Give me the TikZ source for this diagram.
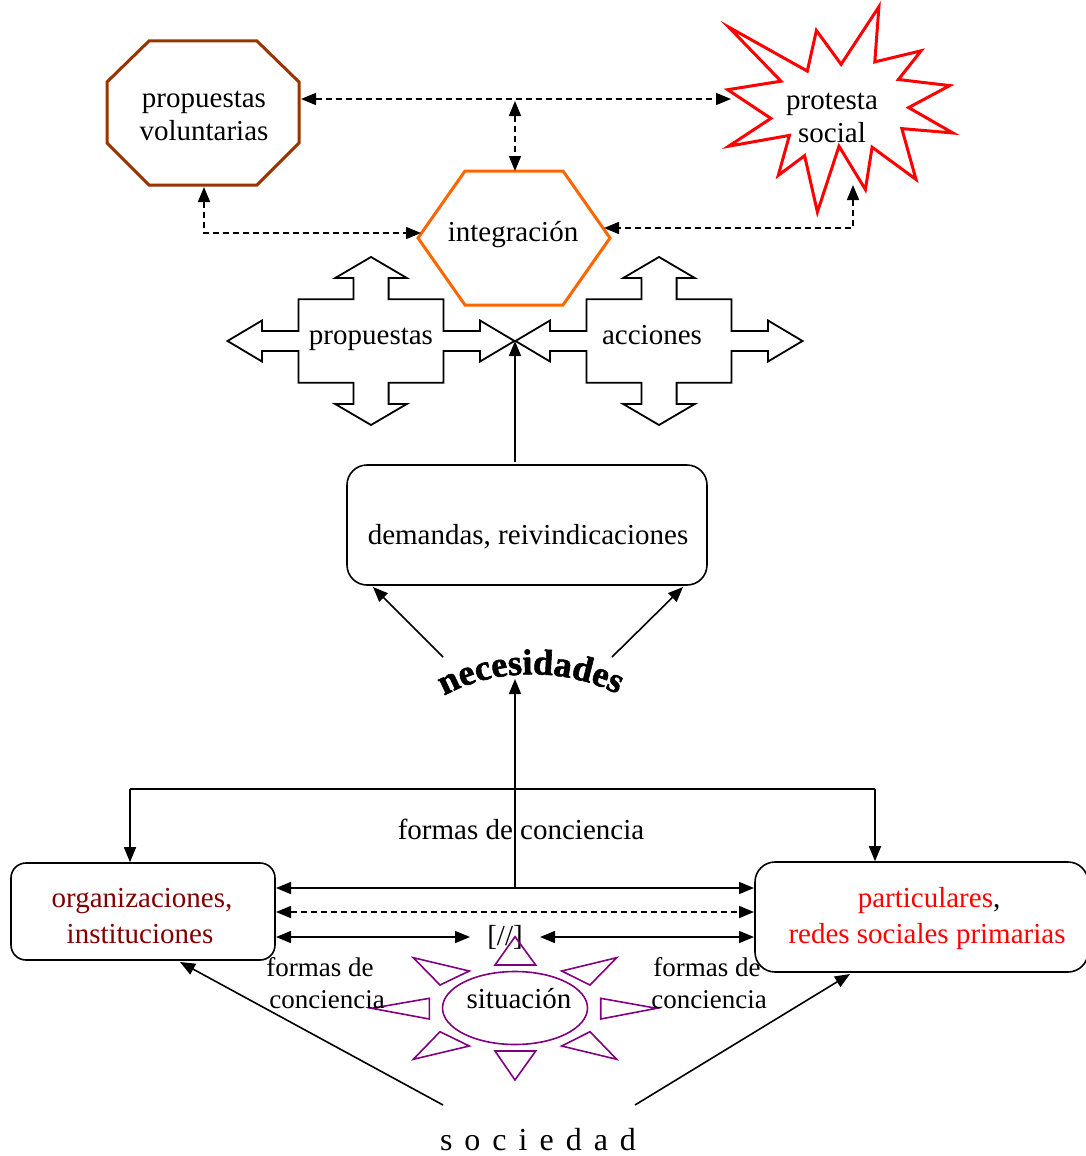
\documentclass[tikz,border=0pt]{standalone}
\usepackage{fontspec}
\setmainfont{Liberation Serif}
\newfontfamily\necfont{Liberation Serif Bold}[FakeBold=1.6]
\usetikzlibrary{arrows.meta,decorations.text}
\definecolor{brownc}{RGB}{153,51,0}
\definecolor{orangec}{RGB}{255,102,0}
\definecolor{darkredc}{RGB}{128,0,0}
\definecolor{purplec}{RGB}{128,0,128}
\definecolor{redc}{RGB}{255,0,0}
\tikzset{
  txt/.style={font=\fontsize{29}{34}\selectfont, inner sep=0pt, anchor=base},
  stxt/.style={font=\fontsize{27}{32}\selectfont, inner sep=0pt, anchor=base},
  conn/.style={line width=1.6pt},
  dsh/.style={line width=1.6pt, dash pattern=on 6pt off 4pt},
  boxshape/.style={draw, line width=1.6pt, inner sep=0pt},
  sunray/.style={draw=purplec, line width=1.6pt, line join=miter},
  quadarrow/.pic={
    \draw[line width=1.8pt, line join=miter]
      (-143.5,0) -- (-109,-20.5) -- (-109,-10) -- (-72.5,-10) -- (-72.5,-41.7)
      -- (-17.6,-41.7) -- (-17.6,-63) -- (-35.8,-63) -- (0,-84) -- (35.8,-63)
      -- (17.6,-63) -- (17.6,-41.7) -- (72.5,-41.7) -- (72.5,-10) -- (109,-10)
      -- (109,-20.5) -- (143.5,0) -- (109,20.5) -- (109,10) -- (72.5,10)
      -- (72.5,41.7) -- (17.6,41.7) -- (17.6,63) -- (35.8,63) -- (0,84)
      -- (-35.8,63) -- (-17.6,63) -- (-17.6,41.7) -- (-72.5,41.7) -- (-72.5,10)
      -- (-109,10) -- (-109,20.5) -- cycle;
  }
}
\begin{document}
\begin{tikzpicture}[x=1pt,y=-1pt,>={Triangle[length=15pt,width=12pt]}]
\fill[white] (0,0) rectangle (1086,1156);
\useasboundingbox (0,0) rectangle (1086,1156);

% --- octagon: propuestas voluntarias
\draw[brownc, line width=3pt, line join=miter]
  (149,41) -- (257,41) -- (299,82) -- (299,143) -- (257,185) -- (149,185) -- (107,143) -- (107,82) -- cycle;
\node[txt] (pv1) at (204,107) {propuestas};
\node[txt] (pv2) at (204,140) {voluntarias};
\coordinate (octR) at (301,99);
\coordinate (octB) at (204,187);

% --- star: protesta social
\draw[redc, line width=3pt, line join=miter]
  (728.7,27.1) -- (807.3,71.1) -- (816.4,30.5) -- (841.1,64.3) -- (878.9,6.8)
  -- (874.8,61.9) -- (921.1,50.8) -- (898.4,79.5) -- (949.7,85.6) -- (908.6,107.6)
  -- (953,133.0) -- (901.8,128.6) -- (916.0,179.4) -- (872.1,147.2) -- (865.4,189.5)
  -- (839.0,146.2) -- (817.4,212) -- (804.6,155.7) -- (778.3,175.3) -- (789.4,135.4)
  -- (728.7,146.2) -- (770.9,118.4) -- (727.7,89.7) -- (781.0,81.2) -- cycle;
\node[txt] (ps1) at (832,109) {protesta};
\node[txt] (ps2) at (832,142) {social};
\coordinate (starL) at (731,99);
\coordinate (starB) at (853,185);

% --- hexagon: integracion
\draw[orangec, line width=3pt, line join=miter]
  (418,238) -- (465,171) -- (563,171) -- (610,238) -- (563,305) -- (465,305) -- cycle;
\node[txt] (integ) at (513,241) {integración};
\coordinate (hexT) at (515,171);
\coordinate (hexL) at (421,233);
\coordinate (hexR) at (604,228);
\coordinate (topmid) at (515,101);
\coordinate (octBB) at (204,233);
\coordinate (starBB) at (853,228);

% --- dashed connectors at the top
\draw[dsh,<->] (octR) -- (starL);
\draw[dsh,<->] (topmid) -- (hexT);
\draw[dsh,<->] (octB) -- (octBB) -- (hexL);
\draw[dsh,<->] (starB) -- (starBB) -- (hexR);

% --- quad arrows
\pic (qa1) at (371,341) {quadarrow};
\pic (qa2) at (659,341) {quadarrow};
\node[txt] (prop) at (371,344) {propuestas};
\node[txt] (acc) at (652,344) {acciones};
\coordinate (cross) at (515,341);

% --- demandas
\node[boxshape, rounded corners=20pt, minimum width=360pt, minimum height=120pt] (dem) at (527,525) {};
\node[txt] (demT) at (528,544) {demandas, reivindicaciones};
\coordinate (demTop) at (515,462);
\draw[conn,->] (demTop) -- (cross);

% --- necesidades
\coordinate (nec) at (515,679);
\coordinate (necL) at (443,657);
\coordinate (necR) at (612,657);
\coordinate (demBL) at (373,587);
\coordinate (demBR) at (683,587);
\draw[conn,->] (necL) -- (demBL);
\draw[conn,->] (necR) -- (demBR);
\path[decorate, decoration={text along path, text align=center,
  text={|\necfont\fontsize{36}{36}\selectfont|necesidades}}]
  (428,706) .. controls (485,664) and (575,664) .. (634,704);

% --- lower boxes
\node[boxshape, rounded corners=15pt, minimum width=264pt, minimum height=97pt] (org) at (143,911.5) {};
\node[txt, text=darkredc] (org1) at (142,907) {organizaciones,};
\node[txt, text=darkredc] (org2) at (140,943) {instituciones};
\node[boxshape, rounded corners=20pt, minimum width=333pt, minimum height=110pt] (par) at (921.5,917) {};
\node[txt] (par1) at (929,907) {\textcolor{redc}{particulares},};
\node[txt, text=redc] (par2) at (927,943) {redes sociales primarias};

% --- formas de conciencia (top)
\coordinate (tl) at (130,789);
\coordinate (tr) at (875,789);
\draw[conn] (tl) -- (tr);
\draw[conn,->] (tl) -- (tl |- org.north);
\draw[conn,->] (tr) -- (tr |- par.north);
\node[txt] (fc) at (521,839) {formas de conciencia};
\coordinate (midbot) at (515,888);
\draw[conn,->] (midbot) -- (nec);

% --- double arrows between boxes
\coordinate (a1L) at (276,888);  \coordinate (a1R) at (754,888);
\coordinate (a2L) at (276,912);  \coordinate (a2R) at (754,912);
\coordinate (a3L) at (276,937);  \coordinate (a3R) at (754,937);
\coordinate (sepL) at (470,937); \coordinate (sepR) at (540,937);
\draw[conn,<->] (a1L) -- (a1R);
\draw[dsh,<->] (a2L) -- (a2R);
\draw[conn,<->] (a3L) -- (sepL);
\draw[conn,<->] (sepR) -- (a3R);
\node[txt] (sep) at (505,945) {[//]};

% --- situacion sun
\draw[sunray] (515,936.7) -- (495,965) -- (535.7,965) -- cycle;
\draw[sunray] (495,1051) -- (535.7,1051) -- (515,1080) -- cycle;
\draw[sunray] (371.7,1008.3) -- (429.3,998.3) -- (429.3,1019) -- cycle;
\draw[sunray] (656.7,1008.3) -- (600.7,998.3) -- (600.7,1019) -- cycle;
\draw[sunray] (413.3,957.7) -- (469.3,971) -- (440,985) -- cycle;
\draw[sunray] (616.7,957.7) -- (561.7,971) -- (590,985) -- cycle;
\draw[sunray] (440,1031.7) -- (469.3,1046) -- (413.3,1059.3) -- cycle;
\draw[sunray] (590,1031.7) -- (561.7,1046) -- (616.7,1059.3) -- cycle;
\draw[purplec, line width=1.6pt] (515,1008) ellipse [x radius=72.5pt, y radius=36.5pt];
\node[txt] (sit) at (519,1008) {situación};

% --- side labels
\node[stxt] (fL1) at (320,976) {formas de};
\node[stxt] (fL2) at (327,1008) {conciencia};
\node[stxt] (fR1) at (707,976) {formas de};
\node[stxt] (fR2) at (709,1008) {conciencia};

% --- sociedad
\node[font=\fontsize{32}{32}\selectfont, inner sep=0pt, anchor=base] (soc) at (538,1150)
  {\spaceskip=12pt s o c i e d a d};
\coordinate (socL) at (443,1105);
\coordinate (socR) at (635,1105);
\coordinate (orgB) at (180,962);
\coordinate (parB) at (850,974);
\draw[conn,->] (socL) -- (orgB);
\draw[conn,->] (socR) -- (parB);
\end{tikzpicture}
\end{document}
